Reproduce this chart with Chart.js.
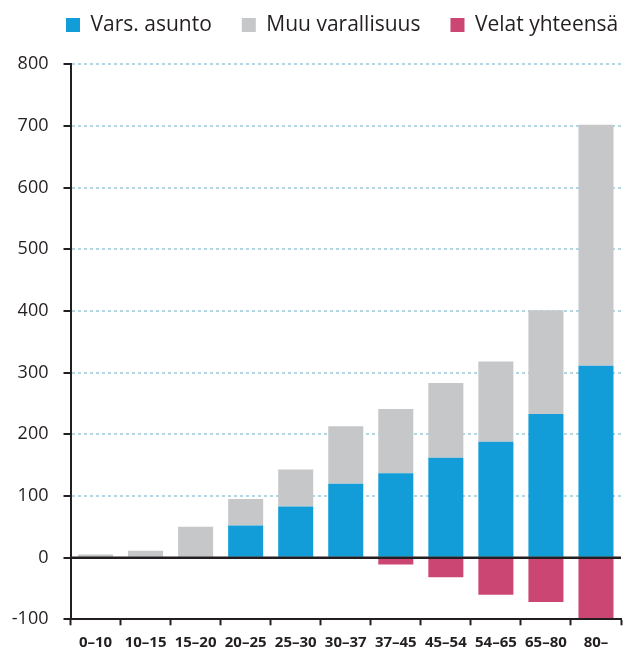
<!DOCTYPE html>
<html>
<head>
<meta charset="utf-8">
<script src="https://cdn.jsdelivr.net/npm/chart.js@4"></script>
<style>
  html, body { margin: 0; padding: 0; background: #ffffff; }
  canvas { display: block; }
</style>
</head>
<body>
<canvas id="c" width="625" height="651"></canvas>
<script>
const categories = ['0–10', '10–15', '15–20', '20–25', '25–30', '30–37', '37–45', '45–54', '54–65', '65–80', '80–'];
const varsAsunto = [0, 0, 0, 52, 83, 120, 137, 162, 188, 233, 311];
const muuVarallisuus = [5, 11, 50, 43, 60, 93, 104, 121, 130, 168, 391];
const velatYhteensa = [0, 0, 0, 0, 0, 0, -11, -32, -60, -72, -98];
const seriesNames = ['Vars. asunto', 'Muu varallisuus', 'Velat yhteensä'];
const yTickValues = [-100, 0, 100, 200, 300, 400, 500, 600, 700, 800];

const INK = '#231f20';
const GRID = '#b3d6e3';

Chart.defaults.font.family = "'Open Sans', sans-serif";
Chart.defaults.color = INK;

const legendTweak = {
  id: 'legendTweak',
  beforeLayout(chart) {
    const lg = chart.legend;
    if (lg && !lg._tweaked) {
      lg._tweaked = true;
      const fit = lg.fit;
      lg.fit = function () {
        const mw = this.maxWidth;
        this.maxWidth = 2000;
        fit.call(this);
        this.maxWidth = mw;
        this.width = mw;
        this.height = 64.3;
      };
    }
  },
  afterLayout(chart) {
    const lg = chart.legend;
    if (!lg) return;
    lg.left = 36;
    lg.right = 2000;
    lg.top = -15.5;
    lg.bottom = lg.top + 80;
  }
};

const zeroLine = {
  id: 'zeroLine',
  afterDatasetsDraw(chart) {
    const {ctx, chartArea, scales} = chart;
    const y = scales.y.getPixelForValue(0);
    ctx.save();
    ctx.strokeStyle = INK;
    ctx.lineWidth = 2.5;
    ctx.beginPath();
    ctx.moveTo(chartArea.left, y);
    ctx.lineTo(chartArea.right, y);
    ctx.stroke();
    ctx.restore();
  }
};

new Chart(document.getElementById('c'), {
  type: 'bar',
  data: {
    labels: categories,
    datasets: [
      { label: seriesNames[0], data: varsAsunto, backgroundColor: '#129dd8' },
      { label: seriesNames[1], data: muuVarallisuus, backgroundColor: '#c6c7c9' },
      { label: seriesNames[2], data: velatYhteensa, backgroundColor: '#cc4673' }
    ]
  },
  options: {
    responsive: false,
    animation: false,
    devicePixelRatio: 1,
    layout: { padding: { top: 0, left: 0, right: 4, bottom: 0 } },
    datasets: { bar: { categoryPercentage: 1.0, barPercentage: 0.7, borderWidth: 0 } },
    plugins: {
      tooltip: { enabled: false },
      legend: {
        position: 'top',
        align: 'start',
        labels: {
          boxWidth: 14,
          boxHeight: 14,
          padding: 30,
          color: INK,
          font: { size: 21 }
        }
      }
    },
    scales: {
      x: {
        stacked: true,
        offset: true,
        grid: {
          display: true,
          drawOnChartArea: false,
          drawTicks: true,
          offset: true,
          tickLength: 6,
          tickWidth: 2,
          tickColor: INK
        },
        border: { display: true, color: INK, width: 2 },
        ticks: {
          padding: 8,
          color: INK,
          font: { size: 15, weight: 'bold' },
          maxRotation: 0,
          autoSkip: false
        },
        afterFit(scale) { scale.height = 31.7; }
      },
      y: {
        stacked: true,
        min: -100,
        max: 800,
        afterBuildTicks(scale) { scale.ticks = yTickValues.map(v => ({ value: v })); },
        grid: {
          color: (ctx) => (ctx.tick && (ctx.tick.value === 0 || ctx.tick.value === -100)) ? 'rgba(0,0,0,0)' : GRID,
          lineWidth: 2,
          drawTicks: true,
          tickLength: 7,
          tickWidth: 2,
          tickColor: INK
        },
        border: { display: true, color: INK, width: 2, dash: [3, 3] },
        ticks: {
          padding: 15,
          color: INK,
          font: { size: 18 }
        },
        afterFit(scale) { scale.width = 70.5; }
      }
    }
  },
  plugins: [legendTweak, zeroLine]
});
</script>
</body>
</html>
